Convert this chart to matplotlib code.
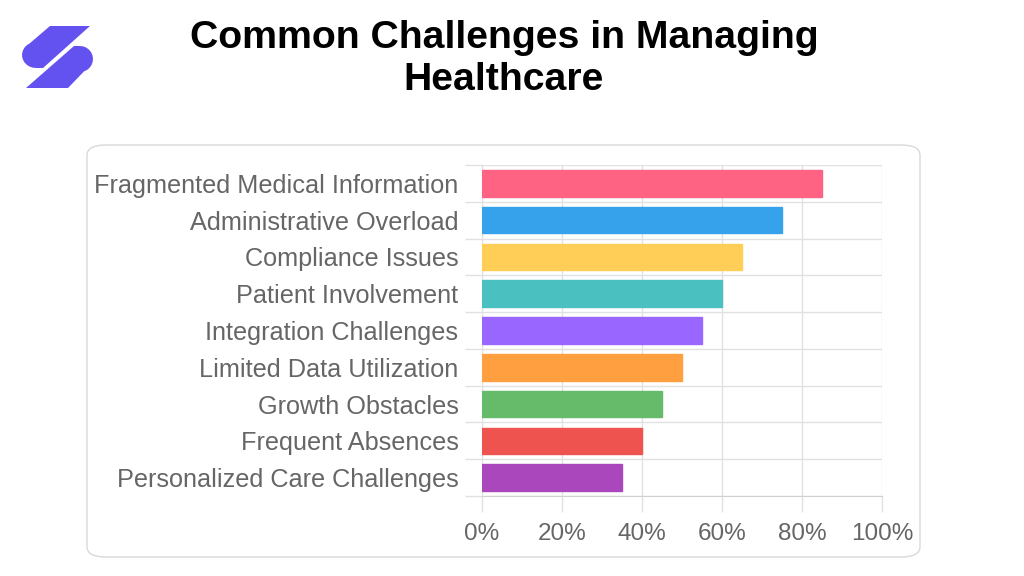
import matplotlib.pyplot as plt
from matplotlib.patches import FancyBboxPatch, Polygon
from matplotlib.ticker import FixedLocator, PercentFormatter
import numpy as np

categories = ["Fragmented Medical Information", "Administrative Overload",
              "Compliance Issues", "Patient Involvement", "Integration Challenges",
              "Limited Data Utilization", "Growth Obstacles", "Frequent Absences",
              "Personalized Care Challenges"]
values = [85, 75, 65, 60, 55, 50, 45, 40, 35]
colors = ["#FF6384", "#36A2EB", "#FFCE56", "#4BC0C0", "#9966FF",
          "#FF9F40", "#66BB6A", "#EF5350", "#AB47BC"]
xticks = [0, 20, 40, 60, 80, 100]

plt.rcParams['font.family'] = ['Liberation Sans', 'DejaVu Sans']

fig = plt.figure(figsize=(10.24, 5.76), dpi=100)
W, H = 1024, 576

# rounded frame around the chart
box = FancyBboxPatch((87 / W, 1 - 557 / H), 833 / W, 412 / H,
                     boxstyle="round,pad=0,rounding_size=0.018",
                     transform=fig.transFigure, facecolor="white",
                     edgecolor="#d9d9d9", linewidth=1.0, zorder=-1)
fig.patches.append(box)

# logo
def pts(p):
    return [(x / W, 1 - y / H) for x, y in p]

top_piece = [(50, 26), (90, 26), (43, 68), (37, 68)]
top_piece += [(36 + 14 * np.cos(a), 55 + 13 * np.sin(a)) for a in np.linspace(np.pi * 0.5, np.pi * 1.35, 12)]
bot_piece = [(68, 88), (26, 88), (74, 46), (80, 46)]
bot_piece += [(80 + 13 * np.cos(a), 59 + 13 * np.sin(a)) for a in np.linspace(-np.pi * 0.5, np.pi * 0.4, 12)]
for piece in (top_piece, bot_piece):
    fig.patches.append(Polygon(pts(piece), closed=True, transform=fig.transFigure,
                               facecolor="#6352F0", edgecolor="none"))

fig.text(504 / W, 1 - 59 / H, "Common Challenges in Managing\nHealthcare",
         ha="center", va="center", fontsize=28.3, fontweight="bold",
         linespacing=1.22, color="black")

ax = fig.add_axes([482 / W, 1 - 496 / H, 400 / W, 331 / H])
ax.set_zorder(2)
y = np.arange(len(categories))
ax.barh(y, values, height=0.72, color=colors,
        edgecolor=colors, linewidth=1, zorder=3)

ax.set_xlim(0, 100)
ax.set_ylim(len(categories) - 0.5, -0.5)
ax.set_xticks(xticks)
ax.xaxis.set_major_formatter(PercentFormatter(decimals=0))
ax.set_yticks(y)
ax.set_yticklabels(categories)
ax.yaxis.set_minor_locator(FixedLocator(np.arange(-0.5, len(categories), 1)))

ax.grid(axis="x", which="major", color="#e1e1e1", linewidth=1, zorder=0)
ax.grid(axis="y", which="minor", color="#e1e1e1", linewidth=1, zorder=0)
ax.tick_params(axis="y", which="major", length=0, pad=17, labelsize=18.2, labelcolor="#666666")
ax.tick_params(axis="y", which="minor", length=12, color="#e1e1e1", width=1)
ax.tick_params(axis="x", length=11.5, color="#e1e1e1", width=1, pad=8,
               labelsize=17.5, labelcolor="#666666")
for s in ["top", "right"]:
    ax.spines[s].set_visible(False)
ax.spines["left"].set_color("#e1e1e1")
ax.spines["bottom"].set_color("#d0d0d0")

fig.savefig("out.png", dpi=100)
